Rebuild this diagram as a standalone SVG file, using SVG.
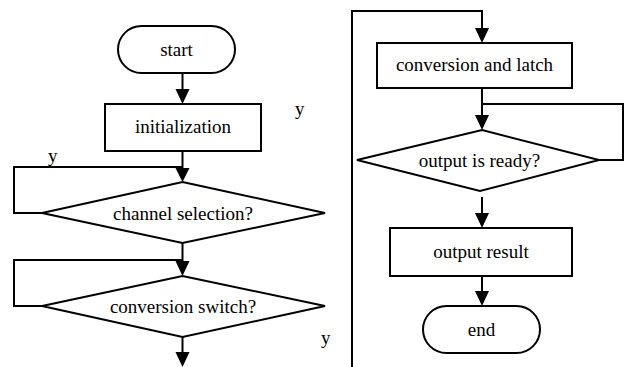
<svg xmlns="http://www.w3.org/2000/svg" width="626" height="367" viewBox="0 0 626 367">
<style>
.s{fill:#fff;stroke:#000;stroke-width:2}
.c{fill:none;stroke:#000;stroke-width:2}
.h{fill:#000;stroke:none}
.t{font-family:'Liberation Serif','Times New Roman','DejaVu Serif',Times,serif;font-size:19px;fill:#000}
.m{text-anchor:middle}
</style>
<rect width="626" height="367" fill="#fff"/>
<g id="connectors">
<path class="c" d="M182.5 73V90"/>
<polygon class="h" points="175.5,89 189.5,89 182.5,104"/>
<path class="c" d="M182.5 151V169"/>
<polygon class="h" points="175.5,168 189.5,168 182.5,182"/>
<path class="c" d="M42 213H14V167H182.5"/>
<path class="c" d="M182.5 243V262"/>
<polygon class="h" points="175.5,261 189.5,261 182.5,276"/>
<path class="c" d="M42 306H14V260H182.5"/>
<path class="c" d="M182.5 337V353"/>
<polygon class="h" points="175.5,352 189.5,352 182.5,367"/>
<path class="c" d="M352 367V11H482V29"/>
<polygon class="h" points="475,28 489,28 482,43"/>
<path class="c" d="M482 88V116"/>
<polygon class="h" points="475,115 489,115 482,130"/>
<path class="c" d="M599 160H623V104H482"/>
<path class="c" d="M482 197V214"/>
<polygon class="h" points="475,213 489,213 482,228"/>
<path class="c" d="M482 276V292"/>
<polygon class="h" points="475,291 489,291 482,306"/>
<text class="t" x="295" y="115">y</text>
<text class="t" x="48" y="162">y</text>
<text class="t" x="321" y="344">y</text>
</g>
<g id="start">
<rect class="s" x="118" y="26" width="117" height="47" rx="23.5"/>
<text class="t m" x="176.5" y="56">start</text>
</g>
<g id="init">
<rect class="s" x="105" y="104" width="156" height="47"/>
<text class="t m" x="183" y="133">initialization</text>
</g>
<g id="channel">
<polygon class="s" points="182.5,182 325,213 182.5,243 42,213"/>
<text class="t m" x="183" y="219.5">channel selection?</text>
</g>
<g id="switch">
<polygon class="s" points="182.5,276 325,306 182.5,337 42,306"/>
<text class="t m" x="183" y="312.5">conversion switch?</text>
</g>
<g id="latch">
<rect class="s" x="377" y="43" width="195" height="45"/>
<text class="t m" x="474.5" y="71">conversion and latch</text>
</g>
<g id="ready">
<polygon class="s" points="482,130 599,160 480,191 357,160"/>
<text class="t m" x="479.5" y="166.5">output is ready?</text>
</g>
<g id="result">
<rect class="s" x="390" y="228" width="182" height="48"/>
<text class="t m" x="481" y="258">output result</text>
</g>
<g id="end">
<rect class="s" x="423" y="306" width="117" height="47" rx="23.5"/>
<text class="t m" x="481.5" y="336">end</text>
</g>
</svg>
